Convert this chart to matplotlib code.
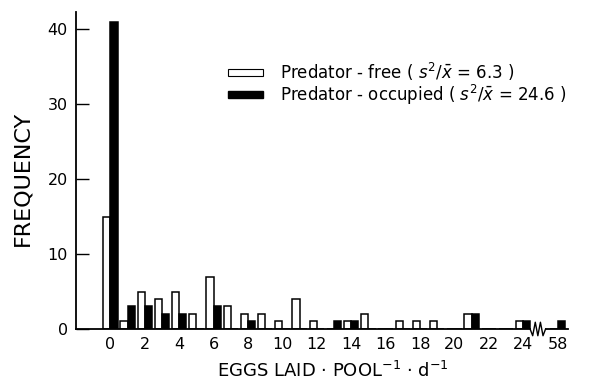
import numpy as np
import matplotlib
matplotlib.use("Agg")
import matplotlib.pyplot as plt
from matplotlib.patches import Patch

# Eggs laid per pool per day (last category sits after the axis break)
eggs = [str(k) for k in range(25)] + ["58"]
# Frequencies
pred_free = [15, 1, 5, 4, 5, 2, 7, 3, 2, 2, 1, 4, 1, 0, 1, 2, 0, 1, 1, 1, 0, 2, 0, 0, 1, 0]
pred_occ = [41, 3, 3, 2, 2, 0, 3, 0, 1, 0, 0, 0, 0, 1, 1, 0, 0, 0, 0, 0, 0, 2, 0, 0, 1, 1]
ytick_vals = [0, 10, 20, 30, 40]

plt.rcParams['font.family'] = ['DejaVu Sans']

fig = plt.figure(figsize=(6.01, 3.85), dpi=100)
ax = fig.add_axes([0.1265, 0.1455, 0.8185, 0.8235])

pos = np.arange(len(eggs))
# the 58 slot is placed one extra step to the right of 24
pos[-1] = 26
w = 0.42

ax.bar(pos - w / 2, pred_free, width=w, color="white", edgecolor="black", linewidth=1.1)
ax.bar(pos + w / 2, pred_occ, width=w, color="black", edgecolor="black", linewidth=1.1)

ax.set_xlim(-2, 26.6)
ax.set_ylim(0, 42.3)

# baseline with zigzag break between 24 and 58
ax.spines["bottom"].set_visible(False)
ax.spines["top"].set_visible(False)
ax.spines["right"].set_visible(False)
ax.spines["left"].set_linewidth(1.3)
zx = [24.4, 24.55, 24.7, 24.85, 25.0, 25.15, 25.3]
zy = [0, -0.9, 0.9, -0.9, 0.9, -0.9, 0]
ax.plot([-2, 24.4], [0, 0], color="black", lw=1.3, clip_on=False, zorder=5)
ax.plot(zx, zy, color="black", lw=1.0, clip_on=False, zorder=5)
ax.plot([25.3, 26.6], [0, 0], color="black", lw=1.3, clip_on=False, zorder=5)

ax.set_xticks([p for i, p in enumerate(pos) if i % 2 == 0 or i == len(pos) - 1])
ax.set_xticklabels([e for i, e in enumerate(eggs) if i % 2 == 0 or i == len(eggs) - 1])
ax.tick_params(axis="x", length=0, pad=6, labelsize=11.5)
ax.set_yticks(ytick_vals)
ax.tick_params(axis="y", direction="in", length=9, width=1, pad=6, labelsize=11.5)

ax.set_ylabel("FREQUENCY", fontsize=16)
ax.yaxis.set_label_coords(-0.088, 0.475)
ax.set_xlabel(r"EGGS LAID $\cdot$ POOL$^{-1}$ $\cdot$ d$^{-1}$", fontsize=13)
ax.xaxis.set_label_coords(0.522, -0.1)

handles = [Patch(facecolor="white", edgecolor="black", linewidth=0.8),
           Patch(facecolor="black", edgecolor="black")]
labels = [r"Predator - free ( $s^2/\bar{x}$ = 6.3 )",
          r"Predator - occupied ( $s^2/\bar{x}$ = 24.6 )"]
ax.legend(handles, labels, loc="upper left", bbox_to_anchor=(0.369, 0.86),
          bbox_transform=fig.transFigure, frameon=False, fontsize=12,
          handlelength=2.1, handleheight=0.3, handletextpad=1.0, labelspacing=0.0,
          borderaxespad=0)

fig.savefig("out.png", dpi=100)
